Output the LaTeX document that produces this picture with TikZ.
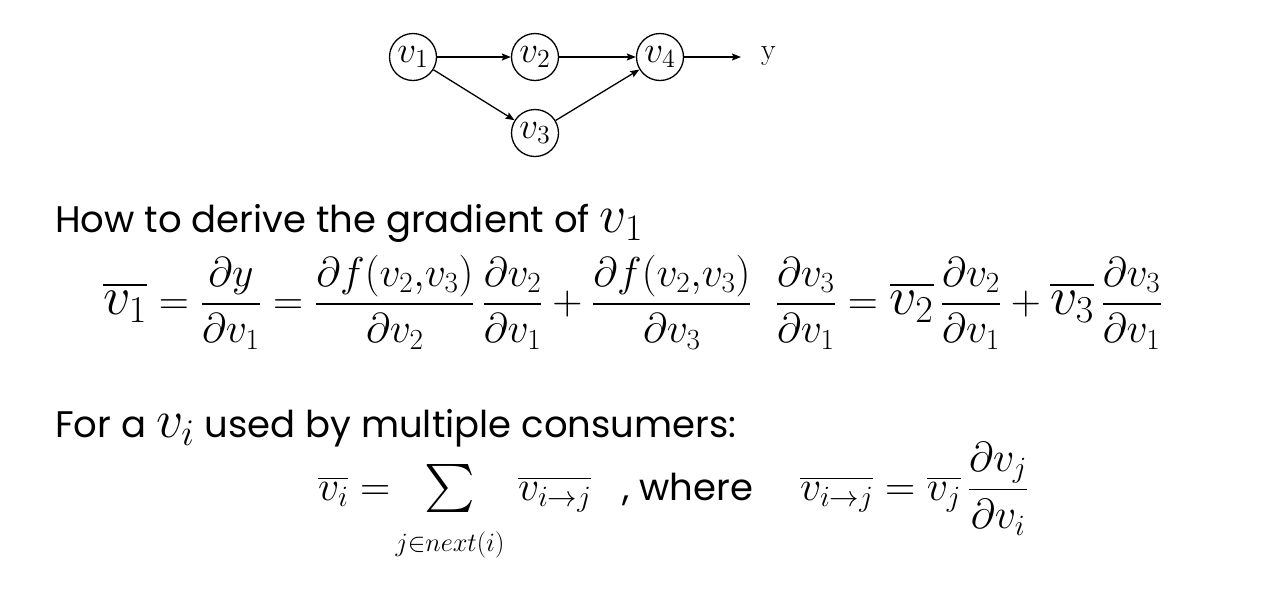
\RequirePackage{fix-cm}
\documentclass[tikz,border=0pt]{standalone}
\usepackage{amsmath}
\usepackage{exscale}
\usepackage{graphicx}
\usepackage[no-math]{fontspec}
\setmainfont{Poppins}
\usetikzlibrary{arrows.meta}
\tikzset{
  gnode/.style={circle,draw,line width=1.3pt,minimum size=47pt,inner sep=0pt,font=\fontsize{24}{28}\selectfont},
  garrow/.style={-{Stealth[length=9pt,width=7pt,inset=1.5pt]},line width=1.3pt},
  txt/.style={anchor=base west,inner sep=0pt,font=\fontsize{37}{44}\selectfont},
  mth/.style={anchor=base west,inner sep=0pt,font=\fontsize{42}{50}\selectfont},
}
\newcommand{\msc}[2]{\scalebox{#1}{$#2$}}
\begin{document}
\begin{tikzpicture}[x=1pt,y=-1pt]
\useasboundingbox (0,0) rectangle (1266,598);
% graph
\node[gnode] (v1) at (413,57) {\msc{1.55}{v_1}};
\node[gnode] (v2) at (535,57) {\msc{1.55}{v_2}};
\node[gnode] (v4) at (660,57) {\msc{1.55}{v_4}};
\node[gnode] (v3) at (535,133) {\msc{1.55}{v_3}};
\node[anchor=west,inner sep=0pt,font=\usefont{TU}{lmr}{m}{n}\fontsize{30}{32}\selectfont] (y) at (761,56) {y};
\draw[garrow] (v1) -- (v2);
\draw[garrow] (v2) -- (v4);
\draw[garrow] (v1) -- (v3);
\draw[garrow] (v3) -- (v4);
\draw[garrow] (v4) -- ([xshift=-20pt]y.west |- v4);
% texts
\node[txt] (t1) at (55,232) {How to derive the gradient of \msc{1.45}{v_1}};
\node[anchor=west,inner sep=0pt,font=\fontsize{30}{36}\selectfont] (eq1) at (103,302) {\resizebox{1059pt}{!}{$\displaystyle \scalebox{1.3}{$\overline{v_1}$} = \frac{\partial y}{\partial v_1} = \frac{\partial f(v_2{,}v_3)}{\partial v_2}\,\frac{\partial v_2}{\partial v_1} + \frac{\partial f(v_2{,}v_3)}{\partial v_3}\;\;\frac{\partial v_3}{\partial v_1} = \scalebox{1.3}{$\overline{v_2}$}\,\frac{\partial v_2}{\partial v_1} + \scalebox{1.3}{$\overline{v_3}$}\,\frac{\partial v_3}{\partial v_1}$}};
\node[txt] (t2) at (55,437) {For a \msc{1.45}{v_i} used by multiple consumers:};
\node[mth] (e1) at (318,500) {$\overline{v_i} =$};
\node[inner sep=0pt] (sum) at (450,488) {\resizebox*{!}{48pt}{$\sum$}};
\node[anchor=base,inner sep=0pt,font=\fontsize{24}{28}\selectfont] (sumsub) at (450,551) {\msc{1.1}{j{\in}next(i)}};
\node[mth] (e3) at (518,500) {$\overline{v_{i\to j}}$};
\node[txt] (wh) at (622,500) {, where};
\node[mth] (e5) at (800,500) {$\overline{v_{i\to j}} = \overline{v_j}\,\dfrac{\partial v_j}{\partial v_i}$};
\end{tikzpicture}
\end{document}
